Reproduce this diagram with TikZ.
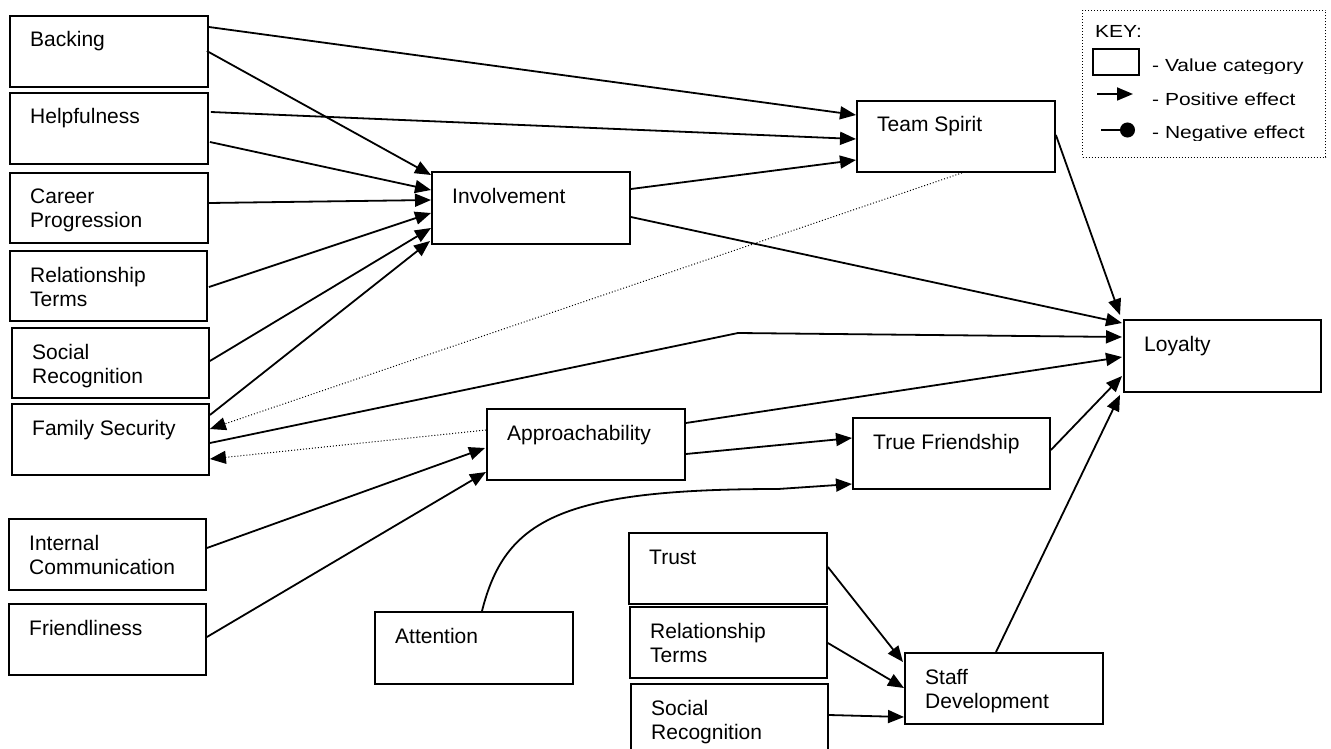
\documentclass[tikz,border=0pt]{standalone}
\usepackage{fontspec}
\setmainfont{Liberation Sans}
\newfontfamily\keyfont[FakeStretch=1.2]{Liberation Sans}
\usetikzlibrary{arrows.meta,calc}

% a value box: name, x, y (top left), width, height, label
\newcommand\vb[6]{%
  \node[vbox, minimum width=#4pt, minimum height=#5pt] (#1) at (#2,#3) {};
  \node[vtxt] (#1-t) at ([shift={(21,32)}]#1.north west) {#6};}
\newcommand\two[2]{\begin{tabular}[t]{@{}l@{}}#1\\#2\end{tabular}}

\begin{document}
\begin{tikzpicture}[x=1pt,y=-1pt,
  vbox/.style={draw, line width=1.9pt, inner sep=0pt, anchor=north west},
  vtxt/.style={anchor=base west, inner sep=0pt, font=\fontsize{21}{24}\selectfont},
  keytxt/.style={anchor=base west, inner sep=0pt, font=\keyfont\fontsize{17.5}{20}\selectfont},
  posfx/.style={line width=1.8pt, -{Triangle[length=16pt,width=13pt]}},
  weakfx/.style={line width=1pt, dotted, -{Triangle[length=16pt,width=13pt]}},
  negfx/.style={line width=1.8pt, -{Circle[length=15pt]}}]
\useasboundingbox (0,0) rectangle (1331,749);

% left column
\vb{backing}{9}{15}{198}{71}{Backing}
\vb{helpful}{9}{92}{198}{71}{Helpfulness}
\vb{career}{9}{172}{198}{70}{\two{Career}{Progression}}
\vb{relterms}{9}{250}{197}{70}{\two{Relationship}{Terms}}
\vb{socrec}{11}{327}{197}{70}{\two{Social}{Recognition}}
\vb{family}{11}{403}{197}{71}{Family Security}
\vb{intcomm}{8}{518}{197}{71}{\two{Internal}{Communication}}
\vb{friendly}{8}{603}{197}{71}{Friendliness}

% middle
\vb{involve}{431}{171}{198}{72}{Involvement}
\vb{approach}{486}{408}{198}{71}{Approachability}
\vb{attention}{374}{611}{198}{72}{Attention}
\vb{team}{856}{100}{198}{71}{Team Spirit}
\vb{truef}{852}{417}{197}{71}{True Friendship}
\vb{loyal}{1123}{319}{197}{72}{Loyalty}

% bottom group
\vb{trust}{628}{532}{198}{71}{Trust}
\vb{relterms2}{629}{606}{197}{71}{\two{Relationship}{Terms}}
\vb{socrec2}{630}{683}{197}{71}{\two{Social}{Recognition}}
\vb{staff}{904}{652}{198}{71}{\two{Staff}{Development}}

% effects into Involvement and Team Spirit
\draw[posfx] ([shift={(0,12)}]backing.north east) -- ([shift={(0,15)}]team.north west);
\draw[posfx] ([shift={(-2,36)}]backing.north east) -- ([shift={(0,4)}]involve.north west);
\draw[posfx] ([shift={(2,20)}]helpful.north east) -- ([shift={(0,39)}]team.north west);
\draw[posfx] ([shift={(1,50)}]helpful.north east) -- ([shift={(0,19)}]involve.north west);
\draw[posfx] ([shift={(0,31)}]career.north east) -- ([shift={(0,29)}]involve.north west);
\draw[posfx] ([shift={(1,37)}]relterms.north east) -- ([shift={(0,42)}]involve.north west);
\draw[posfx] ([shift={(0,34)}]socrec.north east) -- ([shift={(0,57)}]involve.north west);
\draw[posfx] ([shift={(0,12)}]family.north east) -- ([shift={(-1,70)}]involve.north west);
\draw[posfx] ([shift={(0,18)}]involve.north east) -- ([shift={(0,60)}]team.north west);

% effects into Loyalty
\draw[posfx] ([shift={(0,46)}]involve.north east) -- ([shift={(-1,4)}]loyal.north west);
\draw[posfx] ([shift={(0,35)}]team.north east) -- ([shift={(-3,-4)}]loyal.north west);
\coordinate (bend) at (738,333);
\draw[posfx] ([shift={(0,40)}]family.north east) -- (bend) -- ([shift={(-1,18)}]loyal.north west);
\draw[posfx] ([shift={(0,15)}]approach.north east) -- ([shift={(-1,38)}]loyal.north west);
\draw[posfx] ([shift={(0,33)}]truef.north east) -- ([shift={(-1,57)}]loyal.north west);
\draw[posfx] ([shift={(92,0)}]staff.north west) -- ([shift={(-3,2)}]loyal.south west);

% weak links back to Family Security
\draw[weakfx] ([shift={(106,0)}]team.south west) -- ([shift={(0,26)}]family.north east);
\draw[weakfx] ([shift={(0,22)}]approach.north west) -- ([shift={(0,56)}]family.north east);

% effects into Approachability and True Friendship
\draw[posfx] ([shift={(0,30)}]intcomm.north east) -- ([shift={(-1,40)}]approach.north west);
\draw[posfx] ([shift={(0,34)}]friendly.north east) -- ([shift={(0,64)}]approach.north west);
\draw[posfx] ([shift={(0,46)}]approach.north east) -- ([shift={(0,21)}]truef.north west);
\coordinate (att-run) at (778,489);
\draw[posfx] ([shift={(108,0)}]attention.north west)
  .. controls +(23,-91) and +(-218,0) .. (att-run)
  -- ([shift={(0,67)}]truef.north west);

% effects into Staff Development
\draw[posfx] ([shift={(0,35)}]trust.north east) -- ([shift={(-1,10)}]staff.north west);
\draw[posfx] ([shift={(0,37)}]relterms2.north east) -- ([shift={(0,36)}]staff.north west);
\draw[posfx] ([shift={(0,32)}]socrec2.north east) -- ([shift={(0,65)}]staff.north west);

% key
\node[draw, dotted, line width=1pt, inner sep=0pt, anchor=north west,
  minimum width=243pt, minimum height=147pt] (key) at (1082,10) {};
\node[keytxt] (key-title) at (1095,38) {KEY:};
\node[draw, line width=1.6pt, inner sep=0pt, anchor=north west,
  minimum width=46pt, minimum height=26pt] (key-box) at (1092,48) {};
\coordinate (kp-a) at (1097,94);
\coordinate (kp-b) at (1133,94);
\draw[posfx] (kp-a) -- (kp-b);
\coordinate (kn-a) at (1101,130);
\coordinate (kn-b) at (1135,130);
\draw[negfx] (kn-a) -- (kn-b);
\begin{scope}
  \clip (1145,50) rectangle (1324,73.5);
  \node[keytxt] (key-value) at (1152,72) {- Value category};
\end{scope}
\node[keytxt] (key-pos) at (1152,106) {- Positive effect};
\begin{scope}
  \clip (1145,115) rectangle (1324,140.5);
  \node[keytxt] (key-neg) at (1152,139) {- Negative effect};
\end{scope}
\end{tikzpicture}
\end{document}
